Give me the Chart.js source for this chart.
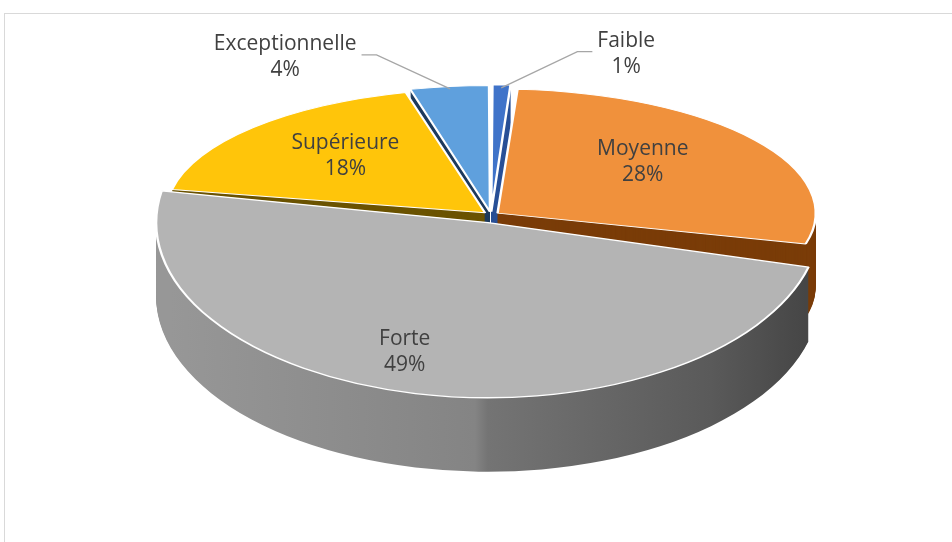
<!DOCTYPE html>
<html><head><meta charset="utf-8">
<script src="https://cdn.jsdelivr.net/npm/chart.js@4/dist/chart.umd.min.js"></script>
<style>
html,body{margin:0;padding:0;background:#fff;overflow:hidden}
#wrap{position:relative;width:952px;height:542px;overflow:hidden}
#frame{position:absolute;left:4px;top:13px;width:1000px;height:600px;border:1px solid #d9d9d9;box-sizing:border-box}
canvas{position:absolute;left:0;top:0}
</style></head><body>
<div id="wrap"><div id="frame"></div><canvas id="c" width="952" height="542"></canvas></div>
<script>
// ---- data ----
const categories = ['Faible', 'Moyenne', 'Forte', 'Supérieure', 'Exceptionnelle'];
const values = [1, 28, 49, 18, 4];
const percentLabels = ['1%', '28%', '49%', '18%', '4%'];

// ---- styles ----
const topColors = ['#3f73c9', '#f0913c', '#b4b4b4', '#ffc50a', '#5fa0dd'];
const sideColors = ['#2a5197', '#7a3c08', null, '#6b5300', '#1e3a5c'];
const explode = [20, 20, 36, 20, 20];
// pseudo-perspective: back half flatter, front half taller
const ELL = { rx: 318, ryBack: 124, ryFront: 168, frontShift: 0, depth: 74 };
// label placement: radial fraction + pixel nudge, outside = with leader line
const labelPlacement = [
  { r: 1.3, dx: 122, dy: 3, outside: true },
  { r: 0.65, dx: -22, dy: -4 },
  { r: 0.65, dx: -38, dy: 23 },
  { r: 0.65, dx: 11, dy: -2 },
  { r: 1.3, dx: -153, dy: 5, outside: true }
];
const FONT = '21px "Open Sans"';
const TEXT_COLOR = '#404040';

function tf(a) {
  const mid = (a.startAngle + a.endAngle) / 2;
  const front = Math.sin(mid) > 0.5;
  const R = a.outerRadius;
  return {
    cx: a.x, cy: a.y, R,
    sx: ELL.rx / R,
    sy: (front ? ELL.ryFront : ELL.ryBack) / R,
    shift: front ? ELL.frontShift : 0,
    front
  };
}
function applyT(ctx, f, dy) {
  ctx.translate(f.cx, f.cy + f.shift + dy);
  ctx.scale(f.sx, f.sy);
  ctx.translate(-f.cx, -f.cy);
}
function toScreen(f, x, y) {
  return [f.cx + (x - f.cx) * f.sx, f.cy + f.shift + (y - f.cy) * f.sy];
}

const pie3d = {
  id: 'pie3d',
  beforeDatasetsDraw(chart) {
    const ctx = chart.ctx, arcs = chart.getDatasetMeta(0).data;
    const R = arcs[0].outerRadius, cx = arcs[0].x;
    const grad = ctx.createLinearGradient(cx - R, 0, cx + R, 0);
    grad.addColorStop(0, '#979797');
    grad.addColorStop(0.48, '#848484');
    grad.addColorStop(0.5, '#747474');
    grad.addColorStop(0.85, '#5a5a5a');
    grad.addColorStop(1, '#464646');
    const fills = sideColors.map(c => c || grad);
    const items = arcs.map((a, i) => ({
      f: tf(a),
      g: Object.create(a, {
        options: { value: Object.assign({}, a.options, { backgroundColor: fills[i], borderWidth: 0 }) }
      })
    }));
    items.sort((p, q) => (p.f.front ? 1 : 0) - (q.f.front ? 1 : 0));
    for (let d = ELL.depth; d >= 1; d--) {
      items.forEach(it => {
        ctx.save();
        applyT(ctx, it.f, d);
        it.g.draw(ctx);
        ctx.restore();
      });
    }
    // top faces
    arcs.forEach(a => {
      ctx.save();
      applyT(ctx, tf(a), 0);
      a.draw(ctx);
      ctx.restore();
    });
  },
  beforeDatasetDraw() {
    return false; // top faces already drawn with the pseudo-3D transform
  },
  afterDatasetsDraw(chart) {
    const ctx = chart.ctx, arcs = chart.getDatasetMeta(0).data;
    ctx.save();
    ctx.font = FONT;
    ctx.fillStyle = TEXT_COLOR;
    ctx.textAlign = 'center';
    ctx.textBaseline = 'middle';
    arcs.forEach((a, i) => {
      const f = tf(a);
      const p = labelPlacement[i];
      const mid = (a.startAngle + a.endAngle) / 2;
      const off = (a.options.offset || 0) / 4;
      const ax = a.x + Math.cos(mid) * (off + a.outerRadius * p.r);
      const ay = a.y + Math.sin(mid) * (off + a.outerRadius * p.r);
      let [X, Y] = toScreen(f, ax, ay);
      X += p.dx; Y += p.dy;
      ctx.fillText(categories[i], X, Y - 13);
      ctx.fillText(percentLabels[i], X, Y + 13);
      if (p.outside) {
        const w = ctx.measureText(categories[i]).width;
        const ex = a.x + Math.cos(mid) * (off + a.outerRadius);
        const ey = a.y + Math.sin(mid) * (off + a.outerRadius);
        const [EX, EY] = toScreen(f, ex, ey);
        const side = EX > X ? 1 : -1;
        const x0 = X + side * (w / 2 + 5);
        const x1 = x0 + side * 15;
        const ly = Y - 2;
        ctx.save();
        ctx.strokeStyle = '#a6a6a6';
        ctx.lineWidth = 1.3;
        ctx.beginPath();
        ctx.moveTo(x0, ly);
        ctx.lineTo(x1, ly);
        ctx.lineTo(EX, EY);
        ctx.stroke();
        ctx.restore();
      }
    });
    ctx.restore();
  }
};

new Chart(document.getElementById('c'), {
  type: 'pie',
  data: {
    labels: categories,
    datasets: [{
      data: values,
      backgroundColor: topColors,
      borderColor: '#ffffff',
      borderWidth: 1.5,
      offset: explode,
      clip: false
    }]
  },
  options: {
    responsive: false,
    maintainAspectRatio: false,
    animation: false,
    events: [],
    layout: { padding: { left: 30, bottom: 112 } },
    plugins: { legend: { display: false }, tooltip: { enabled: false } }
  },
  plugins: [pie3d]
});
</script>
</body></html>
